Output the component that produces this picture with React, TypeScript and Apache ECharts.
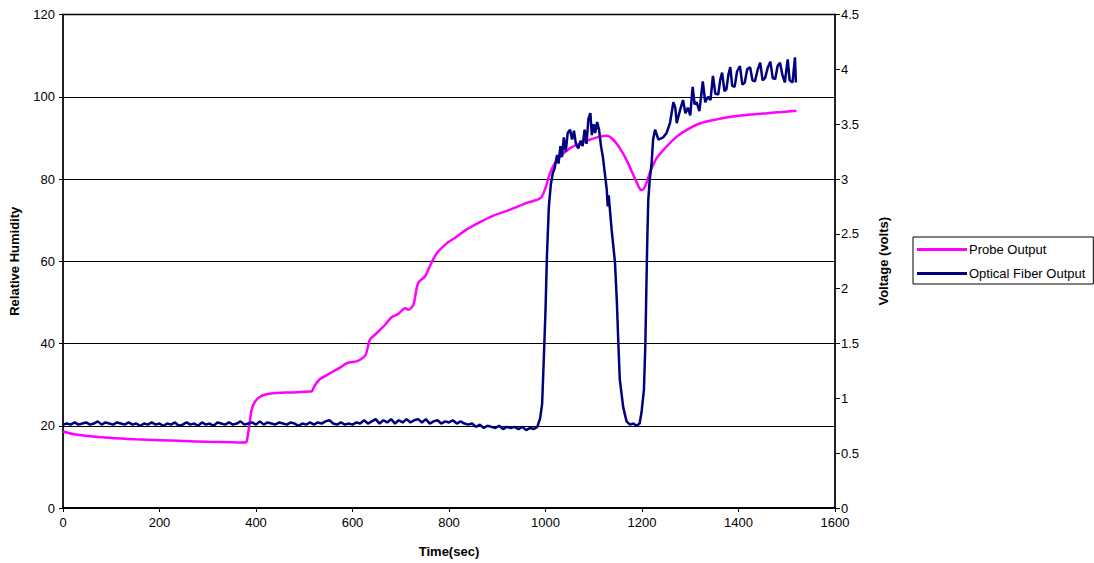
import React, { useEffect, useRef } from "react";
import * as echarts from "echarts";

const probeData: [number, number][] = [
  [0, 18.6], [20, 18.0], [50, 17.5], [100, 17.0], [150, 16.7], [200, 16.5], [250, 16.3], [300, 16.1], [350, 16.0], [378, 15.9],
  [381, 16.3], [386, 20.0], [391, 23.9], [398, 25.9], [409, 27.1], [420, 27.6], [435, 27.9], [470, 28.1], [512, 28.3], [516, 28.4],
  [522, 29.8], [532, 31.3], [545, 32.2], [560, 33.2], [575, 34.2], [588, 35.2], [600, 35.5], [612, 35.8], [627, 37.2], [636, 40.9],
  [650, 42.5], [667, 44.5], [681, 46.4], [695, 47.2], [709, 48.6], [716, 48.2], [726, 49.4], [736, 54.7], [750, 56.3], [762, 59.2],
  [775, 62.0], [796, 64.4], [815, 65.9], [836, 67.7], [864, 69.5], [892, 71.1], [926, 72.5], [961, 74.2], [989, 75.3], [999, 77.5],
  [1009, 81.3], [1019, 83.8], [1030, 85.4], [1051, 87.5], [1072, 88.7], [1093, 89.6], [1113, 90.3], [1127, 90.5], [1140, 89.6],
  [1154, 87.5], [1168, 84.6], [1182, 81.0], [1195, 77.7], [1199, 77.3], [1206, 78.1], [1216, 81.4], [1230, 85.0], [1251, 87.9],
  [1272, 90.3], [1292, 91.9], [1320, 93.5], [1355, 94.5], [1389, 95.2], [1425, 95.7], [1459, 96.0], [1490, 96.3], [1520, 96.6]
];

const opticalData: [number, number][] = [
  [0, 0.76], [8, 0.77], [16, 0.76], [24, 0.78], [32, 0.76], [40, 0.77], [48, 0.78], [56, 0.76], [64, 0.77], [72, 0.79],
  [80, 0.76], [88, 0.78], [96, 0.77], [104, 0.76], [112, 0.78], [120, 0.77], [128, 0.76], [136, 0.78], [144, 0.76], [152, 0.77],
  [160, 0.75], [168, 0.77], [176, 0.76], [184, 0.78], [192, 0.76], [200, 0.77], [208, 0.75], [216, 0.77], [224, 0.76], [232, 0.78],
  [240, 0.75], [248, 0.76], [256, 0.78], [264, 0.76], [272, 0.77], [280, 0.75], [288, 0.78], [296, 0.76], [304, 0.77], [312, 0.75],
  [320, 0.78], [328, 0.77], [336, 0.76], [344, 0.78], [352, 0.76], [360, 0.77], [368, 0.79], [376, 0.76], [384, 0.77], [392, 0.78],
  [400, 0.76], [408, 0.79], [416, 0.76], [424, 0.78], [432, 0.77], [440, 0.76], [448, 0.78], [456, 0.77], [464, 0.76], [472, 0.78],
  [480, 0.77], [488, 0.75], [496, 0.77], [504, 0.76], [512, 0.78], [520, 0.76], [528, 0.78], [536, 0.77], [544, 0.79], [552, 0.80],
  [560, 0.77], [568, 0.76], [576, 0.78], [584, 0.76], [592, 0.77], [600, 0.76], [608, 0.78], [616, 0.77], [624, 0.80], [632, 0.77],
  [640, 0.79], [648, 0.81], [656, 0.77], [664, 0.80], [672, 0.78], [680, 0.81], [688, 0.77], [696, 0.80], [704, 0.78], [712, 0.81],
  [720, 0.78], [728, 0.80], [736, 0.81], [744, 0.78], [752, 0.81], [760, 0.77], [768, 0.79], [776, 0.80], [784, 0.77], [792, 0.79],
  [800, 0.78], [808, 0.80], [816, 0.77], [824, 0.79], [832, 0.77], [840, 0.76], [848, 0.77], [856, 0.74], [864, 0.76], [872, 0.73],
  [880, 0.75], [888, 0.74], [896, 0.73], [904, 0.75], [912, 0.72], [920, 0.74], [928, 0.73], [936, 0.74], [944, 0.72], [952, 0.74],
  [960, 0.71], [968, 0.73], [976, 0.72], [983, 0.74],
  [989, 0.82], [993, 0.95], [996, 1.3], [1000, 1.8], [1003, 2.3], [1007, 2.75], [1011, 2.95], [1015, 3.05], [1019, 3.1],
  [1024, 3.22], [1027, 3.14], [1031, 3.3], [1034, 3.2], [1038, 3.38], [1042, 3.25], [1046, 3.42], [1051, 3.45], [1055, 3.36],
  [1059, 3.44], [1063, 3.32], [1068, 3.28], [1073, 3.35], [1077, 3.3], [1081, 3.45], [1085, 3.32], [1089, 3.55], [1093, 3.6],
  [1096, 3.4], [1100, 3.5], [1103, 3.42], [1107, 3.52], [1111, 3.45], [1115, 3.3], [1119, 3.2], [1123, 3.05], [1127, 2.9],
  [1129, 2.75], [1131, 2.85], [1137, 2.54], [1144, 2.24], [1148, 1.87], [1151, 1.5], [1154, 1.17], [1161, 0.92], [1168, 0.79],
  [1175, 0.76], [1182, 0.77], [1189, 0.75], [1195, 0.77], [1199, 0.87], [1204, 1.08], [1207, 1.5], [1209, 1.99], [1211, 2.45],
  [1213, 2.81], [1216, 2.99], [1220, 3.15], [1223, 3.36], [1227, 3.45], [1234, 3.36], [1244, 3.38], [1251, 3.42], [1258, 3.51],
  [1265, 3.70], [1269, 3.65], [1272, 3.51], [1279, 3.63], [1285, 3.72], [1290, 3.6], [1295, 3.65], [1300, 3.58], [1305, 3.84],
  [1309, 3.68], [1313, 3.70], [1319, 3.62], [1326, 3.89], [1331, 3.7], [1337, 3.75], [1342, 3.72], [1347, 3.94], [1352, 3.78],
  [1358, 3.77], [1362, 3.9], [1366, 3.97], [1371, 3.8], [1375, 3.82], [1379, 3.95], [1383, 4.02], [1387, 3.85], [1392, 3.84],
  [1397, 3.98], [1403, 4.03], [1408, 3.86], [1413, 3.88], [1418, 4.0], [1424, 4.02], [1429, 3.9], [1434, 3.89], [1440, 4.0],
  [1445, 4.06], [1450, 3.9], [1455, 3.92], [1461, 4.02], [1466, 4.07], [1471, 3.92], [1476, 3.91], [1481, 4.03], [1486, 4.06],
  [1491, 3.95], [1496, 3.88], [1502, 4.09], [1506, 3.9], [1512, 3.88], [1517, 4.11], [1519, 3.88]
];

const seriesNames = ["Probe Output", "Optical Fiber Output"];
const xTitle = "Time(sec)";
const yLeftTitle = "Relative Humidity";
const yRightTitle = "Voltage (volts)";

const FONT = "'Liberation Sans', Arial, sans-serif";

export default function App() {
  const ref = useRef<HTMLDivElement>(null);
  useEffect(() => {
    if (!ref.current) return;
    const chart = echarts.init(ref.current, undefined, { renderer: "svg" });
    const labelStyle = { color: "#000", fontFamily: FONT, fontSize: 13 };
    const nameStyle = { color: "#000", fontFamily: FONT, fontSize: 13, fontWeight: "bold" as const };
    chart.setOption({
      animation: false,
      backgroundColor: "#fff",
      textStyle: { fontFamily: FONT },
      grid: {
        left: 63, right: 259, top: 14.5, bottom: 54.5,
        show: true, borderColor: "#808080", borderWidth: 2, backgroundColor: "transparent",
      },
      legend: {
        orient: "vertical",
        left: 913, top: 237,
        padding: [5, 8, 3, 4],
        itemGap: 9,
        itemWidth: 50,
        itemHeight: 3,
        icon: "rect",
        borderColor: "#000",
        borderWidth: 1,
        textStyle: { color: "#000", fontFamily: FONT, fontSize: 13, lineHeight: 15, padding: [0, 0, 0, -3] },
        data: seriesNames,
      },
      xAxis: {
        type: "value",
        min: 0, max: 1600, interval: 200,
        name: xTitle, nameLocation: "middle", nameGap: 37, nameTextStyle: nameStyle,
        axisLine: { show: true, lineStyle: { color: "#000", width: 2 } },
        axisTick: { show: true, inside: false, length: 4, lineStyle: { color: "#000" } },
        axisLabel: { ...labelStyle, margin: 8, formatter: (v: number) => String(v) },
        splitLine: { show: false },
      },
      yAxis: [
        {
          type: "value",
          min: 0, max: 120, interval: 20,
          name: yLeftTitle, nameLocation: "middle", nameGap: 42, nameRotate: 90, nameTextStyle: nameStyle,
          axisLine: { show: true, lineStyle: { color: "#000", width: 1.5 } },
          axisTick: { show: true, inside: false, length: 4, lineStyle: { color: "#000" } },
          axisLabel: { ...labelStyle, margin: 8, formatter: (v: number) => String(v) },
          splitLine: { show: true, lineStyle: { color: "#000", width: 1 } },
        },
        {
          type: "value",
          min: 0, max: 4.5, interval: 0.5,
          position: "right",
          name: yRightTitle, nameLocation: "middle", nameGap: 42, nameRotate: 90, nameTextStyle: nameStyle,
          axisLine: { show: true, lineStyle: { color: "#000", width: 1.5 } },
          axisTick: { show: true, inside: false, length: 5, lineStyle: { color: "#000" } },
          axisLabel: { ...labelStyle, margin: 6, formatter: (v: number) => String(v) },
          splitLine: { show: false },
        },
      ],
      series: [
        {
          name: seriesNames[0],
          type: "line",
          yAxisIndex: 0,
          data: probeData,
          symbol: "none",
          smooth: 0.3,
          lineStyle: { color: "#FF00FF", width: 2.5 },
          itemStyle: { color: "#FF00FF" },
          z: 3,
        },
        {
          name: seriesNames[1],
          type: "line",
          yAxisIndex: 1,
          data: opticalData,
          symbol: "none",
          lineStyle: { color: "#000080", width: 2.5 },
          itemStyle: { color: "#000080" },
          z: 4,
        },
      ],
    });
    return () => chart.dispose();
  }, []);
  return (
    <div
      ref={ref}
      style={{ position: "absolute", left: 0, top: 0, width: 1094, height: 563, background: "#fff" }}
    />
  );
}
